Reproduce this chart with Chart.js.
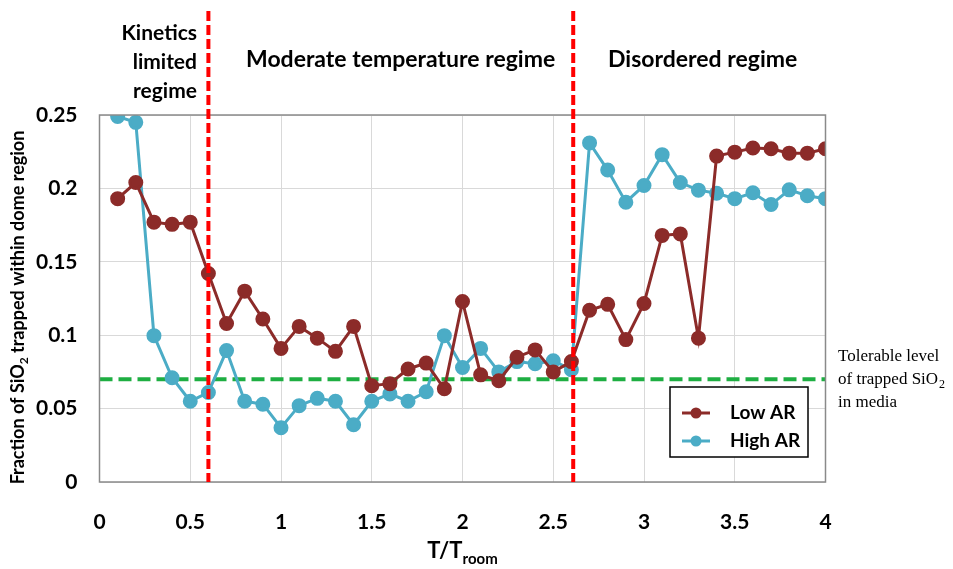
<!DOCTYPE html>
<html>
<head>
<meta charset="utf-8">
<script src="https://cdn.jsdelivr.net/npm/chart.js@4/dist/chart.umd.min.js"></script>
<style>
html,body{margin:0;padding:0;background:#fff;}
canvas{display:block;}
</style>
</head>
<body>
<canvas id="c" width="953" height="569"></canvas>
<script>
const temperatures = [0.1,0.2,0.3,0.4,0.5,0.6,0.7,0.8,0.9,1.0,1.1,1.2,1.3,1.4,1.5,1.6,1.7,1.8,1.9,2.0,2.1,2.2,2.3,2.4,2.5,2.6,2.7,2.8,2.9,3.0,3.1,3.2,3.3,3.4,3.5,3.6,3.7,3.8,3.9,4.0];
const lowAR = [0.193,0.204,0.177,0.1755,0.177,0.142,0.108,0.130,0.111,0.091,0.106,0.098,0.089,0.106,0.0656,0.067,0.077,0.081,0.0635,0.123,0.073,0.069,0.085,0.090,0.075,0.082,0.117,0.121,0.097,0.1216,0.168,0.169,0.098,0.222,0.2247,0.2275,0.227,0.224,0.224,0.227];
const highAR = [0.249,0.245,0.0997,0.071,0.055,0.061,0.0895,0.055,0.053,0.037,0.052,0.057,0.055,0.039,0.055,0.060,0.055,0.0615,0.0997,0.078,0.091,0.075,0.082,0.0806,0.0826,0.0765,0.231,0.2125,0.1906,0.202,0.223,0.204,0.1988,0.1967,0.193,0.197,0.189,0.199,0.195,0.193];
const seriesNames = ['Low AR','High AR'];
const regimeBoundaries = [0.6, 2.61];
const tolerableLevel = 0.07;
const xTicks = [0,0.5,1,1.5,2,2.5,3,3.5,4];
const yTicks = [0,0.05,0.1,0.15,0.2,0.25];

const LOW_COLOR = '#8C2B29';
const HIGH_COLOR = '#4BACC6';

function pts(ys){ return temperatures.map((t,i)=>({x:t,y:ys[i]})); }

const overlay = {
  id:'overlay',
  beforeDatasetsDraw(chart){
    const {ctx, chartArea:a, scales:{x,y}} = chart;
    ctx.save();
    ctx.strokeStyle = '#1EAE42';
    ctx.lineWidth = 4;
    ctx.setLineDash([13,6]);
    const gy = y.getPixelForValue(tolerableLevel);
    ctx.beginPath(); ctx.moveTo(a.left, gy); ctx.lineTo(a.right, gy); ctx.stroke();
    ctx.restore();
  },
  afterDatasetsDraw(chart){
    const {ctx, chartArea:a, scales:{x,y}} = chart;
    ctx.save();
    ctx.strokeStyle = '#8a8a8a';
    ctx.lineWidth = 1.5;
    ctx.strokeRect(a.left, a.top, a.right-a.left, a.bottom-a.top);
    ctx.strokeStyle = '#FF0000';
    ctx.lineWidth = 4;
    ctx.setLineDash([10,4]);
    regimeBoundaries.forEach(v=>{
      const px = x.getPixelForValue(v);
      ctx.beginPath(); ctx.moveTo(px, 11); ctx.lineTo(px, a.bottom); ctx.stroke();
    });
    ctx.setLineDash([]);
    ctx.fillStyle = '#000';
    ctx.font = 'bold 21px Lato';
    ctx.textBaseline = 'middle';
    ctx.textAlign = 'right';
    ctx.fillText('Kinetics', 197, 33);
    ctx.fillText('limited', 197, 62);
    ctx.fillText('regime', 197, 91);
    ctx.textAlign = 'left';
    ctx.font = 'bold 23px Lato';
    ctx.fillText('Moderate temperature regime', 246, 60);
    ctx.fillText('Disordered regime', 608, 60);
    ctx.font = '17px "Liberation Serif"';
    ctx.fillText('Tolerable level', 838, 357);
    ctx.fillText('of trapped SiO', 838, 380);
    let w = ctx.measureText('of trapped SiO').width;
    ctx.font = '12px "Liberation Serif"';
    ctx.fillText('2', 838 + w + 1, 385);
    ctx.font = '17px "Liberation Serif"';
    ctx.fillText('in media', 838, 403);
    const lx = 670, ly = 387, lw = 138, lh = 70;
    ctx.fillStyle = '#fff';
    ctx.fillRect(lx, ly, lw, lh);
    ctx.strokeStyle = '#000';
    ctx.lineWidth = 1.5;
    ctx.strokeRect(lx, ly, lw, lh);
    const cols = [LOW_COLOR, HIGH_COLOR];
    const rows = [413, 441];
    seriesNames.forEach((n,i)=>{
      ctx.strokeStyle = cols[i]; ctx.fillStyle = cols[i];
      ctx.lineWidth = 3;
      ctx.beginPath(); ctx.moveTo(682, rows[i]); ctx.lineTo(710, rows[i]); ctx.stroke();
      ctx.beginPath(); ctx.arc(696, rows[i], 5.5, 0, Math.PI*2); ctx.fill();
      ctx.fillStyle = '#000';
      ctx.font = 'bold 19px Lato';
      ctx.textAlign = 'left';
      ctx.fillText(n, 730, rows[i]);
    });
    ctx.fillStyle = '#000';
    ctx.textBaseline = 'alphabetic';
    ctx.font = 'bold 22px Lato';
    const t1 = 'T/T';
    const w1 = ctx.measureText(t1).width;
    ctx.font = 'bold 15px Lato';
    const w2 = ctx.measureText('room').width;
    const cx = (a.left + a.right)/2;
    let sx = cx - (w1 + w2)/2;
    ctx.font = 'bold 22px Lato';
    ctx.textAlign = 'left';
    ctx.fillText(t1, sx, 558);
    ctx.font = 'bold 15px Lato';
    ctx.fillText('room', sx + w1, 564);
    ctx.translate(24, (a.top + a.bottom)/2 + 9);
    ctx.rotate(-Math.PI/2);
    const p1 = 'Fraction of SiO', p2 = '2', p3 = ' trapped within dome region';
    ctx.font = 'bold 18px Lato';
    const a1 = ctx.measureText(p1).width, a3 = ctx.measureText(p3).width;
    ctx.font = 'bold 12px Lato';
    const a2 = ctx.measureText(p2).width;
    let s = -(a1+a2+a3)/2;
    ctx.font = 'bold 18px Lato';
    ctx.fillText(p1, s, 0);
    ctx.font = 'bold 12px Lato';
    ctx.fillText(p2, s + a1, 4);
    ctx.font = 'bold 18px Lato';
    ctx.fillText(p3, s + a1 + a2, 0);
    ctx.restore();
  }
};

new Chart(document.getElementById('c'), {
  type: 'line',
  data: {
    datasets: [
      {label: seriesNames[0], data: pts(lowAR), borderColor: LOW_COLOR, backgroundColor: LOW_COLOR,
       pointBackgroundColor: LOW_COLOR, pointBorderColor: LOW_COLOR, borderWidth: 3, pointRadius: 6, tension: 0},
      {label: seriesNames[1], data: pts(highAR), borderColor: HIGH_COLOR, backgroundColor: HIGH_COLOR,
       pointBackgroundColor: HIGH_COLOR, pointBorderColor: HIGH_COLOR, borderWidth: 3, pointRadius: 6, tension: 0}
    ]
  },
  options: {
    responsive: false,
    animation: false,
    layout: {padding: {top: 115, right: 127.5, left: 0, bottom: 0}},
    plugins: {legend: {display: false}, tooltip: {enabled: false}},
    scales: {
      x: {
        type: 'linear', min: 0, max: 4,
        afterBuildTicks(s){ s.ticks = xTicks.map(v=>({value:v})); },
        afterFit(s){ s.height = 87; },
        grid: {color: '#D9D9D9', lineWidth: 1, drawTicks: false},
        border: {display: false},
        ticks: {padding: 28, color: '#000', font: {family: 'Lato', size: 21, weight: 'bold'},
          maxRotation: 0, callback: v => String(+v.toFixed(2))}
      },
      y: {
        type: 'linear', min: 0, max: 0.25,
        afterBuildTicks(s){ s.ticks = yTicks.map(v=>({value:v})); },
        afterFit(s){ s.width = 99.5; },
        grid: {color: '#D9D9D9', lineWidth: 1, drawTicks: false},
        border: {display: false},
        ticks: {padding: 22, color: '#000', font: {family: 'Lato', size: 21, weight: 'bold'},
          callback: v => String(+v.toFixed(2))}
      }
    }
  },
  plugins: [overlay]
});
</script>
</body>
</html>
